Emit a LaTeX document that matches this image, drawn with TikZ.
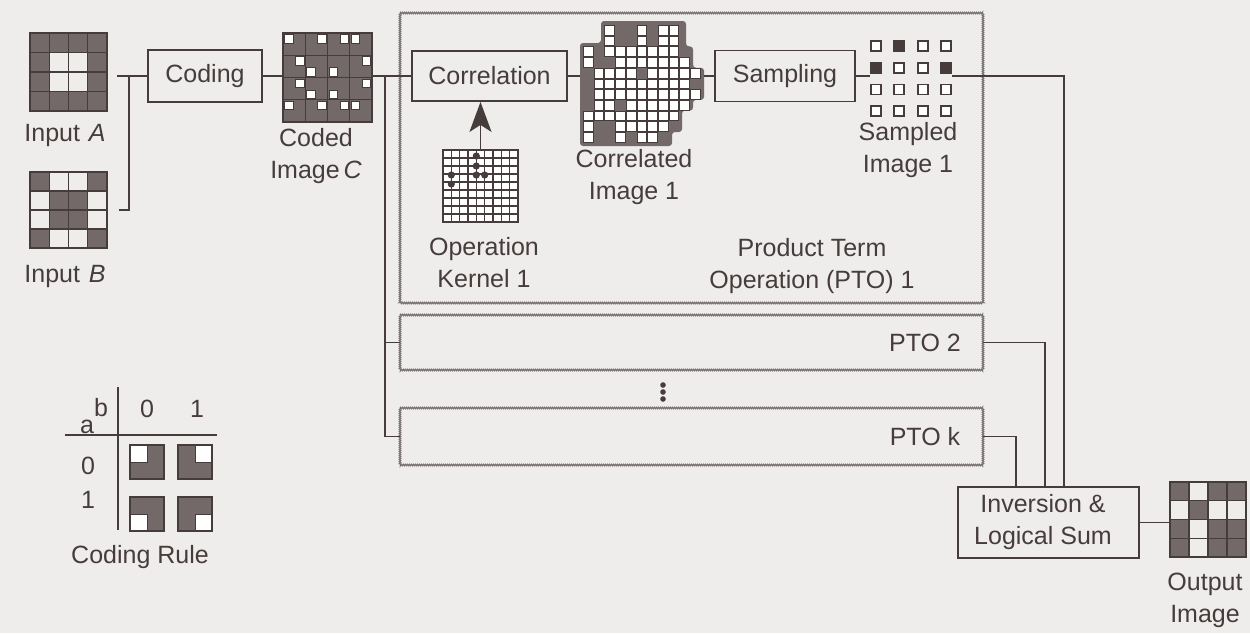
\documentclass[tikz,border=0pt]{standalone}
\usepackage{fontspec}
\setmainfont{Liberation Sans}
\usetikzlibrary{arrows.meta,decorations.pathmorphing}
\definecolor{bg}{RGB}{238,237,236}
\definecolor{ink}{RGB}{70,60,60}
\definecolor{shadecol}{RGB}{115,105,105}
\definecolor{ptoline}{RGB}{120,112,112}
\newcommand\lab{\fontsize{25}{32}\selectfont}
\begin{document}
\begin{tikzpicture}[x=1pt,y=-1pt,
  conn/.style={draw=ink,line width=1.8pt},
  box/.style={draw=ink,line width=1.8pt,text=ink,font=\lab,inner sep=0pt,align=center},
  lbl/.style={text=ink,font=\lab,inner sep=0pt,align=center},
  area/.style={inner sep=0pt,outer sep=0pt,draw=none},
  ptoframe/.style={draw=ptoline,line width=1.3pt,decorate,decoration={zigzag,amplitude=0.6pt,segment length=2pt}},
  gline/.style={draw=ink,line width=1.1pt},
  gframe/.style={draw=ink,line width=1.8pt},
]
\fill[bg] (0,0) rectangle (1250,633);
\useasboundingbox (0,0) rectangle (1250,633);

% ---------- Input A ----------
\node[area,minimum width=77pt,minimum height=78pt] (inA) at (68.5,72) {};
\foreach \r/\c in {0/0,0/1,0/2,0/3,1/0,1/3,2/0,2/3,3/0,3/1,3/2,3/3}
  \fill[shadecol] ({30+\c*19.25},{33+\r*19.5}) rectangle +(19.25,19.5);
\foreach \i in {1,2,3} {
  \draw[gline] ({30+\i*19.25},33) -- ++(0,78);
  \draw[gline] (30,{33+\i*19.5}) -- ++(77,0);
}
\draw[gframe] (inA.north west) rectangle (inA.south east);
\node[lbl] (labA) at (65,135) {Input\hspace{0.35em}\textit{A}};

% ---------- Input B ----------
\node[area,minimum width=77pt,minimum height=76pt] (inB) at (68.5,210) {};
\foreach \r/\c in {0/0,0/3,1/1,1/2,2/1,2/2,3/0,3/3}
  \fill[shadecol] ({30+\c*19.25},{172+\r*19}) rectangle +(19.25,19);
\foreach \i in {1,2,3} {
  \draw[gline] ({30+\i*19.25},172) -- ++(0,76);
  \draw[gline] (30,{172+\i*19}) -- ++(77,0);
}
\draw[gframe] (inB.north west) rectangle (inB.south east);
\node[lbl] (labB) at (65,276) {Input\hspace{0.35em}\textit{B}};

% ---------- Coding ----------
\node[box,minimum width=114pt,minimum height=52pt] (coding) at (205,76) {Coding};

% ---------- Coded image C ----------
\node[area,minimum width=89pt,minimum height=89pt] (codedC) at (327.5,77.5) {};
\fill[shadecol] (codedC.north west) rectangle (codedC.south east);
\foreach \c/\r in {0/0,3/0,5/0,6/0,1/2,2/3,4/3,7/2,1/4,2/5,4/5,7/4,0/6,3/6,5/6,6/6}
  \filldraw[fill=white,draw=ink,line width=0.6pt] ({283+\c*11.125+1.3},{33+\r*11.125+1.3}) rectangle +(8.5,8.5);
\foreach \i in {1,2,3} {
  \draw[gline] ({283+\i*22.25},33) -- ++(0,89);
  \draw[gline] (283,{33+\i*22.25}) -- ++(89,0);
}
\draw[gframe] (codedC.north west) rectangle (codedC.south east);
\node[lbl] (labC) at (316,156) {Coded\\Image\hspace{0.15em}\textit{C}};

% ---------- PTO frames ----------
\node[area,minimum width=583pt,minimum height=290pt] (pto1) at (691.5,158) {};
\node[area,minimum width=583pt,minimum height=55pt] (pto2) at (691.5,342.5) {};
\node[area,minimum width=583pt,minimum height=57pt] (ptok) at (691.5,436.5) {};
\draw[ptoframe] (pto1.north west) rectangle (pto1.south east);
\draw[ptoframe] (pto2.north west) rectangle (pto2.south east);
\draw[ptoframe] (ptok.north west) rectangle (ptok.south east);
\node[lbl] (lpto2) at (925,343) {PTO 2};
\node[lbl] (lptok) at (925,437) {PTO k};
\node[lbl] (lpto1) at (812,266.5) {Product Term\\Operation (PTO) 1};
\foreach \yy in {385,392,399} \fill[ink] (663,\yy) circle (2.8);

% ---------- Correlation ----------
\node[box,minimum width=155pt,minimum height=50pt] (correlation) at (489.5,76) {Correlation};

% ---------- Kernel ----------
\node[area,minimum width=75pt,minimum height=72pt] (kern) at (480.5,186) {};
\fill[white] (kern.north west) rectangle (kern.south east);
\foreach \i in {1,...,8} {
  \draw[gline] ({443+\i*8.333},150) -- ++(0,72);
  \draw[gline] (443,{150+\i*8}) -- ++(75,0);
}
\draw[draw=ink,line width=1.5pt] (kern.north west) rectangle (kern.south east);
\foreach \xx/\yy in {476.3/156,476.3/166,451.3/175,476.3/175,484.7/175,451.3/184}
  \fill[ink] (\xx,\yy) circle (3.6);
\draw[conn,-{Stealth[length=30pt,width=22pt,inset=7pt]}] (kern.north) -- (kern.north |- correlation.south);
\node[lbl] (lkern) at (484,263) {Operation\\Kernel 1};

% ---------- Correlated image ----------
\node[area,minimum width=124pt,minimum height=125pt] (corr) at (642,83.5) {};
\fill[shadecol,rounded corners=3pt] (601,21) -- (686,21) -- (686,46.4) -- (693,46.4) -- (693,67.8) -- (704,67.8) -- (704,99.9) -- (693,99.9) -- (693,110.6) -- (682,110.6) -- (682,132) -- (672,132) -- (672,146) -- (580,146) -- (580,43) -- (601,43) -- cycle;
\foreach \r/\cl in {0/{2,5,7,8},1/{2,5,7,8},2/{0,2,3,4,5,6,7,8},3/{0,3,4,5,6,7,8,9},4/{1,2,3,4,6,7,8,9,10},5/{1,2,3,4,5,6,7,8,9},6/{1,2,3,4,5,6,7,8,9,10},7/{1,2,4,5,6,7,8,9},8/{0,1,2,3,4,5,6,7,8},9/{0,3,4,5,6,7},10/{0,3,5,6}}
  \foreach \c in \cl
    \filldraw[fill=white,draw=ink,line width=1pt] ({583+\c*10.7+0.5},{25+\r*10.7+0.5}) rectangle +(9.7,9.7);
\node[lbl] (lcorr) at (634,177.5) {Correlated\\Image 1};

% ---------- Sampling ----------
\node[box,minimum width=140pt,minimum height=51pt] (sampling) at (785,76) {Sampling};

% ---------- Sampled image ----------
\node[area,minimum width=82pt,minimum height=77pt] (samp) at (911,78.5) {};
\foreach \r in {0,1,2,3}
  \foreach \c in {0,1,2,3}
    \draw[draw=ink,line width=1.8pt,fill=white] ({870+\c*23.3+1},{40+\r*21.7+1}) rectangle +(10,10);
\foreach \c/\r in {1/0,0/1,3/1}
  \fill[ink] ({870+\c*23.3},{40+\r*21.7}) rectangle +(12,12);
\node[lbl] (lsamp) at (908,150) {Sampled\\Image 1};

% ---------- Inversion & output ----------
\node[box,minimum width=181pt,minimum height=71pt] (inv) at (1048.5,522.5) {};
\node[lbl] (linv) at (1043,522) {Inversion \&\\Logical Sum};
\node[area,minimum width=76pt,minimum height=75pt] (outimg) at (1208,519.5) {};
\foreach \r/\c in {0/0,0/2,0/3,1/1,2/0,2/2,2/3,3/0,3/2,3/3}
  \fill[shadecol] ({1170+\c*19},{482+\r*18.75}) rectangle +(19,18.75);
\foreach \i in {1,2,3} {
  \draw[gline] ({1170+\i*19},482) -- ++(0,75);
  \draw[gline] (1170,{482+\i*18.75}) -- ++(76,0);
}
\draw[gframe] (outimg.north west) rectangle (outimg.south east);
\node[lbl] (lout) at (1205,600) {Output\\Image};

% ---------- Connectors ----------
\coordinate (aout) at ([xshift=10pt]inA.east);
\coordinate (bout) at ([xshift=12pt]inB.east);
\coordinate (jab) at (129,76);
\coordinate (jp) at (385,76);
\draw[conn] (aout |- coding.west) -- (coding.west);
\draw[conn] (bout) -| (jab);
\draw[conn] (coding.east) -- (coding.east -| codedC.west);
\draw[conn] (coding.east -| codedC.east) -- (correlation.west);
\draw[conn] (jp) |- (ptok.west);
\draw[conn] (jp |- pto2.west) -- (pto2.west);
\draw[conn] (correlation.east) -- (correlation.east -| corr.west);
\draw[conn] (sampling.west -| corr.east) -- (sampling.west);
\draw[conn] (sampling.east) -- (sampling.east -| samp.west);
\draw[conn] (sampling.east -| samp.east) -| ([xshift=15.5pt]inv.north);
\draw[conn] (pto2.east) -| ([xshift=-3.5pt]inv.north);
\draw[conn] (ptok.east) -| ([xshift=-32.5pt]inv.north);
\draw[conn] (inv.east) -- (inv.east -| outimg.west);

% ---------- Coding rule ----------
\draw[conn] (118,387) -- (118,530);
\draw[conn] (65,435) -- (217,435);
\node[lbl] (rb) at (101,408) {b};
\node[lbl] (ra) at (87,427) {a};
\node[lbl] (rc0) at (147,409) {0};
\node[lbl] (rc1) at (197,409) {1};
\node[lbl] (rr0) at (88,466) {0};
\node[lbl] (rr1) at (88,500) {1};
\foreach \nm/\x/\y/\wx/\wy in {r00/130/445/0/0,r01/178/445/1/0,r10/130/497/0/1,r11/178/497/1/1} {
  \node[area,minimum width=34pt,minimum height=34pt] (\nm) at ({\x+17},{\y+17}) {};
  \fill[shadecol] (\nm.north west) rectangle (\nm.south east);
  \filldraw[fill=white,draw=ink,line width=1pt] ({\x+\wx*17},{\y+\wy*17}) rectangle +(17,17);
  \draw[gframe] (\nm.north west) rectangle (\nm.south east);
}
\node[lbl] (lrule) at (140,557) {Coding Rule};
\end{tikzpicture}
\end{document}
